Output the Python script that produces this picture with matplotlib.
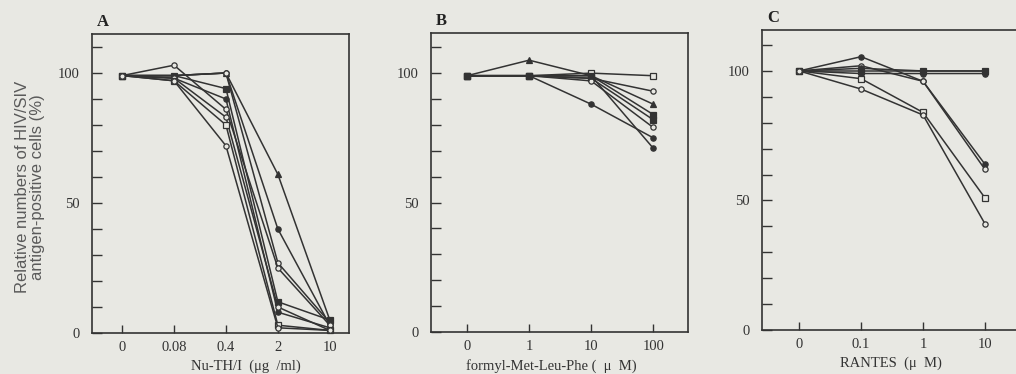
import matplotlib
matplotlib.use('Agg')
import matplotlib.pyplot as plt

BG = '#e8e8e3'
INK = '#333333'
SERIF = 'Liberation Serif'

# ---------------- data ----------------
a_cats = ['0', '0.08', '0.4', '2', '10']
a_s1 = [99, 99, 100, 61, 5]
a_s2 = [99, 99, 100, 40, 3]
a_s3 = [99, 99, 100, 27, 4]
a_s4 = [99, 99, 94, 12, 5]
a_s5 = [99, 98, 90, 8, 2]
a_s6 = [99, 103, 86, 25, 3]
a_s7 = [99, 98, 83, 10, 1]
a_s8 = [99, 97, 80, 3, 1]
a_s9 = [99, 97, 72, 2, 1]
a_series = [a_s1, a_s2, a_s3, a_s4, a_s5, a_s6, a_s7, a_s8, a_s9]
a_marks = [('^', True), ('o', True), ('o', False), ('s', True), ('o', True),
           ('o', False), ('o', False), ('s', False), ('o', False)]

b_cats = ['0', '1', '10', '100']
b_s1 = [99, 99, 100, 99]
b_s2 = [99, 99, 98, 93]
b_s3 = [99, 105, 99, 88]
b_s4 = [99, 99, 99, 84]
b_s5 = [99, 99, 98, 82]
b_s6 = [99, 99, 97, 79]
b_s7 = [99, 99, 88, 75]
b_s8 = [99, 99, 99, 71]
b_series = [b_s1, b_s2, b_s3, b_s4, b_s5, b_s6, b_s7, b_s8]
b_marks = [('s', False), ('o', False), ('^', True), ('s', True), ('s', True),
           ('o', False), ('o', True), ('o', True)]

c_cats = ['0', '0.1', '1', '10']
c_s1 = [100, 105.5, 96, 64]
c_s2 = [100, 102, 96, 62]
c_s3 = [100, 100, 100, 100]
c_s4 = [100, 101, 100, 100]
c_s5 = [100, 99, 99, 99]
c_s6 = [100, 97, 84, 51]
c_s7 = [100, 93, 83, 41]
c_series = [c_s1, c_s2, c_s3, c_s4, c_s5, c_s6, c_s7]
c_marks = [('o', True), ('o', False), ('s', True), ('o', True), ('o', True),
           ('s', False), ('o', False)]

yticks = list(range(0, 120, 10))
ylabels = ['0', '', '', '', '', '50', '', '', '', '', '100', '']

W, H = 1016, 374
fig = plt.figure(figsize=(W / 100, H / 100), dpi=100, facecolor=BG)


def make_ax(left, top, bottom, width):
    return fig.add_axes([left / W, (H - bottom) / H, width / W, (bottom - top) / H])


def draw(ax, cats, series, marks, xlim, ylim, letter, xlabel, xlab_x):
    ax.set_facecolor(BG)
    xs = list(range(len(cats)))
    for ys, (m, filled) in zip(series, marks):
        ax.plot(xs, ys, color=INK, lw=1.1, marker=m, ms=3.8 if m != '^' else 4.2,
                mfc=INK if filled else BG, mec=INK, mew=0.9, zorder=3, clip_on=False)
    ax.set_xlim(*xlim)
    ax.set_ylim(*ylim)
    ax.set_xticks(xs)
    ax.set_xticklabels(cats, fontfamily=SERIF, fontsize=10.5, color=INK)
    ax.set_yticks(yticks)
    ax.set_yticklabels(ylabels, fontfamily=SERIF, fontsize=10.5, color=INK)
    ax.tick_params(axis='y', direction='in', length=7, width=1.0, color=INK, pad=9)
    ax.tick_params(axis='x', direction='in', length=6, width=1.0, color=INK, pad=6)
    for s in ax.spines.values():
        s.set_color(INK)
        s.set_linewidth(1.2)
    ax.text(0.02, 1.015, letter, transform=ax.transAxes, fontfamily=SERIF,
            fontweight='bold', fontsize=12, color='#222222', ha='left', va='bottom')
    ax.set_xlabel(xlabel, fontfamily=SERIF, fontsize=10.5, color=INK)
    ax.xaxis.set_label_coords(xlab_x, -0.09)


axA = make_ax(92, 34, 333, 257)
draw(axA, a_cats, a_series, a_marks, (-0.58, 4.37), (0, 115), 'A',
     'Nu-TH/I  (μg  /ml)', 0.6)
axB = make_ax(431, 33, 332, 257)
draw(axB, b_cats, b_series, b_marks, (-0.58, 3.56), (0, 115.5), 'B',
     'formyl-Met-Leu-Phe (  μ  M)', 0.47)
axC = make_ax(762, 30, 330, 257)
draw(axC, c_cats, c_series, c_marks, (-0.6, 3.55), (0, 115.8), 'C',
     'RANTES  (μ  M)', 0.5)

fig.text(30 / W, 1 - 187 / H, 'Relative numbers of HIV/SIV\nantigen-positive cells (%)',
         rotation=90, ha='center', va='center', fontfamily='Liberation Sans',
         fontsize=12, color='#5a5a5a', linespacing=1.05)

fig.savefig('out.png', dpi=100, facecolor=BG)
